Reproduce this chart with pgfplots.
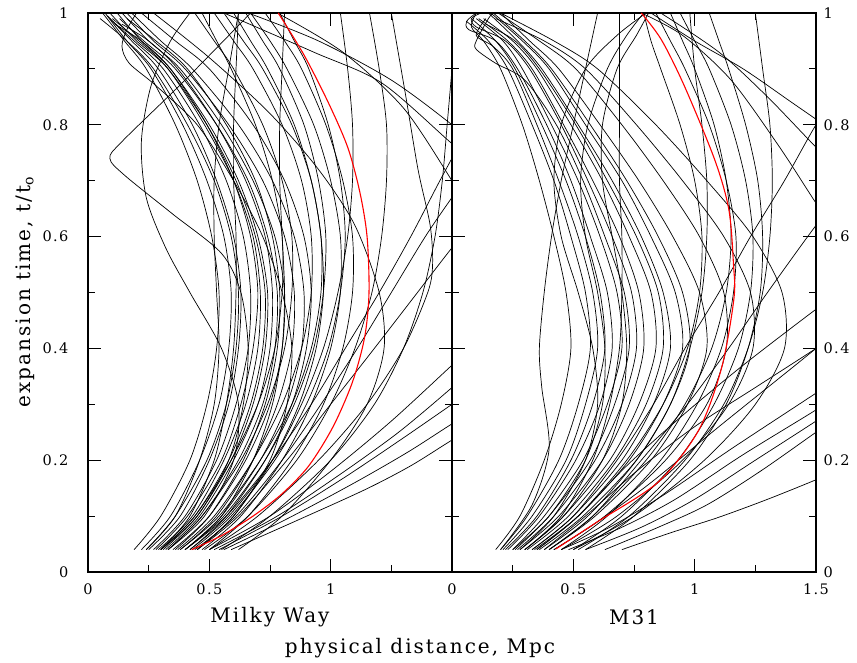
\documentclass[border=0pt]{standalone}
\usepackage{fontspec}
\setmainfont{DejaVu Serif}
\newfontfamily\lblfont[LetterSpace=10]{DejaVu Serif}
\usepackage{pgfplots}
\pgfplotsset{compat=1.18}
\pgfplotsset{
  base/.style={scale only axis, width=364pt, height=559pt, anchor=south west,
    xmin=0, xmax=1.5, ymin=0, ymax=1,
    minor xtick={0.25,0.75,1.25},
    ytick={0,0.2,0.4,0.6,0.8,1}, minor ytick={0.1,0.3,0.5,0.7,0.9},
    yticklabels={0,0.2,0.4,0.6,0.8,1},
    tick align=inside, xtick pos=both, ytick pos=both, xticklabel pos=lower,
    major tick length=13pt, minor tick length=7pt,
    every tick/.style={black, line width=0.8pt},
    axis line style={line width=1.3pt},
    tick label style={font=\lblfont\fontsize{14.5}{16}\selectfont},
    /pgf/number format/assume math mode=true,
    xticklabel style={yshift=-8pt},
  },
  trk/.style={black, line width=0.7pt, smooth, mark=none},
  rtrk/.style={red, line width=1.1pt, smooth, mark=none},
}
\begin{document}
\begin{tikzpicture}
\path[use as bounding box] (0pt,0pt) rectangle (857pt,663pt);
% ---------------- Milky Way ----------------
\begin{axis}[base, at={(88pt,91pt)}, xtick={0,0.5,1}, xticklabels={0,0.5,1},
  yticklabel pos=left, yticklabel style={xshift=-16pt}]
% infall family
\addplot[trk] coordinates {(0.19,0.04)(0.30,0.1)(0.42,0.2)(0.49,0.3)(0.53,0.4)(0.54,0.5)(0.51,0.6)(0.45,0.7)(0.36,0.8)(0.24,0.9)(0.15,0.95)(0.06,1.0)};
\addplot[trk] coordinates {(0.22,0.04)(0.34,0.1)(0.46,0.2)(0.54,0.3)(0.58,0.4)(0.59,0.5)(0.56,0.6)(0.49,0.7)(0.39,0.8)(0.26,0.9)(0.16,0.95)(0.07,1.0)};
\addplot[trk] coordinates {(0.25,0.04)(0.38,0.1)(0.50,0.2)(0.58,0.3)(0.62,0.4)(0.63,0.5)(0.60,0.6)(0.53,0.7)(0.43,0.8)(0.29,0.9)(0.18,0.95)(0.08,0.995)};
\addplot[trk] coordinates {(0.27,0.04)(0.40,0.1)(0.53,0.2)(0.61,0.3)(0.66,0.4)(0.67,0.5)(0.64,0.6)(0.57,0.7)(0.46,0.8)(0.31,0.9)(0.19,0.95)(0.09,0.99)};
\addplot[trk] coordinates {(0.29,0.04)(0.43,0.1)(0.56,0.2)(0.65,0.3)(0.70,0.4)(0.71,0.5)(0.68,0.6)(0.60,0.7)(0.48,0.8)(0.33,0.9)(0.21,0.95)(0.10,0.99)};
\addplot[trk] coordinates {(0.31,0.04)(0.45,0.1)(0.59,0.2)(0.68,0.3)(0.73,0.4)(0.74,0.5)(0.70,0.6)(0.62,0.7)(0.50,0.8)(0.34,0.9)(0.22,0.95)(0.12,1.0)};
\addplot[trk] coordinates {(0.33,0.04)(0.47,0.1)(0.62,0.2)(0.72,0.3)(0.77,0.4)(0.78,0.5)(0.74,0.6)(0.66,0.7)(0.53,0.8)(0.36,0.9)(0.23,0.95)(0.13,0.99)};
\addplot[trk] coordinates {(0.35,0.04)(0.50,0.1)(0.65,0.2)(0.75,0.3)(0.80,0.4)(0.81,0.5)(0.77,0.6)(0.68,0.7)(0.55,0.8)(0.38,0.9)(0.25,0.95)(0.14,1.0)};
\addplot[trk] coordinates {(0.38,0.04)(0.53,0.1)(0.68,0.2)(0.78,0.3)(0.84,0.4)(0.85,0.5)(0.81,0.6)(0.72,0.7)(0.58,0.8)(0.40,0.9)(0.27,0.95)(0.16,1.0)};
\addplot[trk] coordinates {(0.40,0.04)(0.55,0.1)(0.71,0.2)(0.82,0.3)(0.88,0.4)(0.89,0.5)(0.85,0.6)(0.76,0.7)(0.62,0.8)(0.43,0.9)(0.30,0.95)(0.18,1.0)};
\addplot[trk] coordinates {(0.36,0.04)(0.50,0.1)(0.64,0.2)(0.73,0.3)(0.78,0.4)(0.79,0.5)(0.76,0.6)(0.69,0.7)(0.57,0.8)(0.41,0.9)(0.28,0.95)(0.16,0.99)};
\addplot[trk] coordinates {(0.28,0.04)(0.41,0.1)(0.55,0.2)(0.63,0.3)(0.68,0.4)(0.70,0.5)(0.67,0.6)(0.60,0.7)(0.49,0.8)(0.34,0.9)(0.22,0.95)(0.11,0.98)};
\addplot[trk] coordinates {(0.24,0.04)(0.36,0.1)(0.49,0.2)(0.57,0.3)(0.61,0.4)(0.62,0.5)(0.59,0.6)(0.52,0.7)(0.41,0.8)(0.27,0.9)(0.16,0.95)(0.05,0.99)};
\addplot[trk] coordinates {(0.32,0.04)(0.46,0.1)(0.60,0.2)(0.70,0.3)(0.75,0.4)(0.76,0.5)(0.73,0.6)(0.65,0.7)(0.53,0.8)(0.37,0.9)(0.25,0.95)(0.14,0.98)};
\addplot[trk] coordinates {(0.30,0.04)(0.44,0.1)(0.58,0.2)(0.67,0.3)(0.72,0.4)(0.73,0.5)(0.69,0.6)(0.61,0.7)(0.49,0.8)(0.33,0.9)(0.20,0.95)(0.09,1.0)};
\addplot[trk] coordinates {(0.42,0.04)(0.57,0.1)(0.73,0.2)(0.84,0.3)(0.90,0.4)(0.92,0.5)(0.89,0.6)(0.81,0.7)(0.68,0.8)(0.50,0.9)(0.36,0.95)(0.22,1.0)};
% turn-around family ending high
\addplot[trk] coordinates {(0.45,0.04)(0.60,0.1)(0.76,0.2)(0.87,0.3)(0.94,0.4)(0.97,0.5)(0.96,0.6)(0.92,0.7)(0.84,0.8)(0.72,0.9)(0.64,0.95)(0.56,1.0)};
\addplot[trk] coordinates {(0.40,0.04)(0.56,0.1)(0.73,0.2)(0.85,0.3)(0.93,0.4)(0.97,0.5)(0.98,0.6)(0.95,0.7)(0.89,0.8)(0.79,0.9)(0.72,0.95)(0.65,1.0)};
\addplot[trk] coordinates {(0.47,0.04)(0.63,0.1)(0.80,0.2)(0.92,0.3)(1.00,0.4)(1.04,0.5)(1.04,0.6)(1.00,0.7)(0.93,0.8)(0.82,0.9)(0.75,0.95)(0.67,1.0)};
\addplot[trk] coordinates {(0.37,0.04)(0.52,0.1)(0.68,0.2)(0.80,0.3)(0.88,0.4)(0.92,0.5)(0.92,0.6)(0.88,0.7)(0.80,0.8)(0.68,0.9)(0.60,0.95)(0.52,1.0)};
\addplot[trk] coordinates {(0.50,0.04)(0.66,0.1)(0.84,0.2)(0.97,0.3)(1.05,0.4)(1.09,0.5)(1.09,0.6)(1.05,0.7)(0.98,0.8)(0.88,0.9)(0.81,0.95)(0.73,1.0)};
\addplot[trk] coordinates {(0.33,0.04)(0.47,0.1)(0.63,0.2)(0.74,0.3)(0.81,0.4)(0.84,0.5)(0.84,0.6)(0.80,0.7)(0.72,0.8)(0.60,0.9)(0.52,0.95)(0.44,1.0)};
\addplot[trk] coordinates {(0.43,0.04)(0.59,0.1)(0.77,0.2)(0.90,0.3)(0.99,0.4)(1.04,0.5)(1.06,0.6)(1.04,0.7)(0.99,0.8)(0.91,0.9)(0.85,0.95)(0.79,1.0)};
\addplot[trk] coordinates {(0.38,0.04)(0.54,0.1)(0.71,0.2)(0.84,0.3)(0.92,0.4)(0.96,0.5)(0.96,0.6)(0.92,0.7)(0.85,0.8)(0.74,0.9)(0.67,0.95)(0.60,1.0)};
\addplot[trk] coordinates {(0.30,0.04)(0.44,0.1)(0.59,0.2)(0.70,0.3)(0.77,0.4)(0.80,0.5)(0.80,0.6)(0.76,0.7)(0.69,0.8)(0.59,0.9)(0.53,0.95)(0.47,1.0)};
% near-vertical and bouncing tracks
\addplot[trk] coordinates {(0.30,0.04)(0.42,0.1)(0.52,0.2)(0.57,0.3)(0.60,0.4)(0.61,0.5)(0.61,0.6)(0.60,0.7)(0.60,0.8)(0.61,0.9)(0.62,1.0)};
\addplot[trk] coordinates {(0.40,0.04)(0.55,0.1)(0.68,0.2)(0.76,0.3)(0.80,0.4)(0.81,0.5)(0.80,0.6)(0.79,0.7)(0.79,0.8)(0.80,0.9)(0.81,1.0)};
\addplot[trk] coordinates {(0.24,0.04)(0.36,0.1)(0.46,0.2)(0.52,0.3)(0.54,0.4)(0.53,0.5)(0.52,0.6)(0.52,0.7)(0.54,0.8)(0.58,0.9)(0.62,1.0)};
\addplot[trk] coordinates {(0.33,0.04)(0.48,0.1)(0.60,0.2)(0.62,0.3)(0.55,0.4)(0.42,0.5)(0.32,0.58)(0.24,0.67)(0.22,0.77)(0.26,0.87)(0.34,0.95)(0.42,1.0)};
\addplot[trk] coordinates {(0.45,0.04)(0.60,0.1)(0.75,0.2)(0.82,0.3)(0.84,0.4)(0.80,0.5)(0.72,0.6)(0.60,0.7)(0.45,0.8)(0.28,0.87)(0.17,0.91)(0.14,0.94)(0.16,0.97)(0.20,1.0)};
\addplot[trk] coordinates {(0.30,0.04)(0.45,0.1)(0.58,0.2)(0.64,0.3)(0.66,0.4)(0.63,0.5)(0.55,0.57)(0.35,0.64)(0.15,0.71)(0.09,0.74)(0.14,0.77)(0.40,0.88)(0.67,1.0)};
\addplot[trk] coordinates {(0.62,0.04)(0.80,0.1)(1.00,0.2)(1.15,0.3)(1.22,0.4)(1.20,0.5)(1.10,0.62)(0.95,0.72)(0.75,0.82)(0.50,0.92)(0.27,1.0)};
% outward tracks
\addplot[trk] coordinates {(0.59,0.04)(0.85,0.09)(1.14,0.147)(1.33,0.19)(1.5,0.236)(1.6,0.26)};
\addplot[trk] coordinates {(0.56,0.04)(0.82,0.095)(1.10,0.16)(1.32,0.215)(1.5,0.265)(1.6,0.29)};
\addplot[trk] coordinates {(0.54,0.04)(0.80,0.1)(1.06,0.17)(1.30,0.24)(1.5,0.30)(1.6,0.33)};
\addplot[trk] coordinates {(0.52,0.04)(0.78,0.1)(1.04,0.175)(1.28,0.25)(1.5,0.33)(1.6,0.37)};
\addplot[trk] coordinates {(0.50,0.04)(0.75,0.1)(1.00,0.18)(1.25,0.27)(1.5,0.37)(1.6,0.41)};
\addplot[trk] coordinates {(0.45,0.04)(0.62,0.1)(0.82,0.2)(1.00,0.3)(1.18,0.4)(1.34,0.49)(1.5,0.58)(1.6,0.63)};
\addplot[trk] coordinates {(0.40,0.04)(0.57,0.1)(0.76,0.2)(0.92,0.3)(1.06,0.4)(1.20,0.5)(1.33,0.6)(1.45,0.7)(1.55,0.78)};
\addplot[trk] coordinates {(0.44,0.04)(0.61,0.1)(0.80,0.2)(0.96,0.3)(1.11,0.4)(1.25,0.5)(1.39,0.6)(1.5,0.67)(1.6,0.73)};
\addplot[trk] coordinates {(0.42,0.04)(0.58,0.1)(0.76,0.2)(0.88,0.3)(0.97,0.4)(1.03,0.5)(1.07,0.6)(1.09,0.7)(1.09,0.8)(1.07,0.9)(1.04,1.0)};
\addplot[trk] coordinates {(0.48,0.04)(0.66,0.1)(0.86,0.2)(1.00,0.3)(1.10,0.4)(1.17,0.5)(1.21,0.6)(1.23,0.7)(1.23,0.8)(1.20,0.9)(1.16,1.0)};
\addplot[trk] coordinates {(0.50,0.04)(0.70,0.1)(0.95,0.2)(1.15,0.3)(1.30,0.4)(1.40,0.5)(1.42,0.55)(1.41,0.62)(1.36,0.72)(1.31,0.85)(1.25,1.0)};
\addplot[trk] coordinates {(0.55,0.04)(0.75,0.1)(1.00,0.2)(1.18,0.3)(1.30,0.4)(1.38,0.5)(1.43,0.6)(1.46,0.7)(1.48,0.8)(1.5,0.9)(1.52,1.0)};
% incoming tracks
\addplot[trk] coordinates {(1.6,0.73)(1.49,0.77)(1.21,0.875)(0.93,0.93)(0.56,1.0)};
\addplot[trk] coordinates {(1.6,0.63)(1.5,0.70)(1.30,0.83)(1.05,0.93)(0.78,1.0)};
\addplot[trk] coordinates {(1.6,0.76)(1.5,0.80)(1.25,0.88)(0.95,0.95)(0.66,1.0)};
% highlighted track
\addplot[rtrk] coordinates {(0.427,0.04)(0.55,0.065)(0.68,0.10)(0.80,0.14)(0.91,0.19)(1.01,0.26)(1.09,0.34)(1.14,0.42)(1.158,0.5)(1.15,0.6)(1.12,0.68)(1.07,0.76)(0.99,0.84)(0.89,0.925)(0.784,1.0)};
\end{axis}
% ---------------- M31 ----------------
\begin{axis}[base, at={(452pt,91pt)}, xtick={0,0.5,1,1.5}, xticklabels={0,0.5,1,1.5},
  yticklabel pos=right, yticklabel style={xshift=4pt}]
% infall family
\addplot[trk] coordinates {(0.18,0.04)(0.28,0.1)(0.38,0.2)(0.45,0.3)(0.49,0.4)(0.47,0.5)(0.42,0.6)(0.36,0.7)(0.29,0.8)(0.20,0.9)(0.13,0.95)(0.08,0.975)(0.10,1.0)};
\addplot[trk] coordinates {(0.20,0.04)(0.31,0.1)(0.44,0.2)(0.52,0.3)(0.57,0.4)(0.55,0.5)(0.49,0.6)(0.42,0.7)(0.33,0.8)(0.23,0.9)(0.15,0.95)(0.06,0.985)};
\addplot[trk] coordinates {(0.22,0.04)(0.35,0.1)(0.49,0.2)(0.58,0.3)(0.63,0.4)(0.61,0.5)(0.55,0.6)(0.47,0.7)(0.37,0.8)(0.26,0.9)(0.18,0.95)(0.08,0.99)};
\addplot[trk] coordinates {(0.25,0.04)(0.38,0.1)(0.54,0.2)(0.64,0.3)(0.70,0.4)(0.68,0.5)(0.61,0.6)(0.52,0.7)(0.41,0.8)(0.29,0.9)(0.21,0.95)(0.10,0.99)};
\addplot[trk] coordinates {(0.27,0.04)(0.42,0.1)(0.59,0.2)(0.70,0.3)(0.76,0.4)(0.74,0.5)(0.66,0.6)(0.56,0.7)(0.45,0.8)(0.32,0.9)(0.22,0.95)(0.10,0.975)(0.08,0.99)(0.12,1.0)};
\addplot[trk] coordinates {(0.30,0.04)(0.46,0.1)(0.65,0.2)(0.77,0.3)(0.84,0.4)(0.82,0.5)(0.73,0.6)(0.62,0.7)(0.49,0.8)(0.35,0.9)(0.25,0.95)(0.13,0.99)};
\addplot[trk] coordinates {(0.33,0.04)(0.50,0.1)(0.70,0.2)(0.83,0.3)(0.90,0.4)(0.87,0.5)(0.78,0.6)(0.66,0.7)(0.52,0.8)(0.37,0.9)(0.27,0.95)(0.15,1.0)};
\addplot[trk] coordinates {(0.36,0.04)(0.54,0.1)(0.76,0.2)(0.90,0.3)(0.98,0.4)(0.95,0.5)(0.85,0.6)(0.72,0.7)(0.57,0.8)(0.41,0.9)(0.30,0.95)(0.17,1.0)};
\addplot[trk] coordinates {(0.28,0.04)(0.44,0.1)(0.62,0.2)(0.73,0.3)(0.79,0.4)(0.77,0.5)(0.69,0.6)(0.58,0.7)(0.46,0.8)(0.33,0.9)(0.23,0.95)(0.11,0.99)};
\addplot[trk] coordinates {(0.23,0.04)(0.36,0.1)(0.51,0.2)(0.61,0.3)(0.66,0.4)(0.64,0.5)(0.57,0.6)(0.49,0.7)(0.39,0.8)(0.27,0.9)(0.18,0.95)(0.07,0.97)(0.06,0.985)(0.10,1.0)};
\addplot[trk] coordinates {(0.40,0.04)(0.59,0.1)(0.82,0.2)(0.97,0.3)(1.05,0.4)(1.02,0.5)(0.91,0.6)(0.77,0.7)(0.61,0.8)(0.44,0.9)(0.32,0.95)(0.20,1.0)};
\addplot[trk] coordinates {(0.31,0.04)(0.48,0.1)(0.67,0.2)(0.80,0.3)(0.87,0.4)(0.85,0.5)(0.76,0.6)(0.64,0.7)(0.51,0.8)(0.36,0.9)(0.26,0.95)(0.14,0.98)};
\addplot[trk] coordinates {(0.21,0.04)(0.33,0.1)(0.47,0.2)(0.55,0.3)(0.60,0.4)(0.58,0.5)(0.52,0.6)(0.44,0.7)(0.35,0.8)(0.25,0.9)(0.17,0.94)(0.10,0.96)(0.14,0.99)};
\addplot[trk] coordinates {(0.34,0.04)(0.52,0.1)(0.73,0.2)(0.87,0.3)(0.95,0.4)(0.92,0.5)(0.82,0.6)(0.70,0.7)(0.55,0.8)(0.40,0.9)(0.29,0.95)(0.16,1.0)};
\addplot[trk] coordinates {(0.26,0.04)(0.40,0.1)(0.57,0.2)(0.67,0.3)(0.73,0.4)(0.71,0.5)(0.63,0.6)(0.54,0.7)(0.43,0.8)(0.30,0.88)(0.18,0.91)(0.10,0.935)(0.10,0.95)(0.15,0.99)(0.17,1.0)};
\addplot[trk] coordinates {(0.45,0.04)(0.68,0.1)(0.95,0.2)(1.14,0.3)(1.24,0.4)(1.23,0.5)(1.12,0.6)(0.95,0.7)(0.76,0.8)(0.55,0.9)(0.38,0.95)(0.18,0.99)};
\addplot[trk] coordinates {(0.50,0.04)(0.75,0.1)(1.04,0.2)(1.25,0.3)(1.37,0.4)(1.36,0.5)(1.24,0.6)(1.05,0.7)(0.84,0.8)(0.60,0.9)(0.42,0.95)(0.20,1.0)};
\addplot[trk] coordinates {(0.42,0.04)(0.63,0.1)(0.88,0.2)(1.05,0.3)(1.13,0.4)(1.12,0.5)(1.02,0.6)(0.87,0.7)(0.70,0.8)(0.51,0.9)(0.36,0.95)(0.19,1.0)};
% wavy / vertical tracks
\addplot[trk] coordinates {(0.20,0.04)(0.33,0.12)(0.40,0.22)(0.37,0.33)(0.36,0.4)(0.38,0.5)(0.41,0.6)(0.45,0.7)(0.50,0.8)(0.55,0.9)(0.60,1.0)};
\addplot[trk] coordinates {(0.30,0.04)(0.45,0.1)(0.58,0.2)(0.65,0.3)(0.69,0.4)(0.70,0.5)(0.70,0.6)(0.69,0.7)(0.69,0.8)(0.69,0.9)(0.69,1.0)};
\addplot[trk] coordinates {(0.28,0.04)(0.42,0.1)(0.55,0.2)(0.60,0.3)(0.58,0.4)(0.52,0.5)(0.45,0.6)(0.42,0.7)(0.45,0.8)(0.55,0.9)(0.68,0.96)(0.80,1.0)};
% turn-around family ending high
\addplot[trk] coordinates {(0.35,0.04)(0.52,0.1)(0.72,0.2)(0.87,0.3)(0.97,0.4)(1.02,0.5)(1.03,0.6)(1.00,0.7)(0.94,0.8)(0.86,0.9)(0.82,0.95)(0.79,1.0)};
\addplot[trk] coordinates {(0.45,0.04)(0.64,0.1)(0.86,0.2)(1.01,0.3)(1.11,0.4)(1.16,0.5)(1.17,0.6)(1.13,0.7)(1.06,0.8)(0.96,0.9)(0.90,0.95)(0.84,1.0)};
\addplot[trk] coordinates {(0.40,0.04)(0.58,0.1)(0.80,0.2)(0.96,0.3)(1.07,0.4)(1.13,0.5)(1.15,0.6)(1.13,0.7)(1.08,0.8)(1.00,0.9)(0.95,0.95)(0.90,1.0)};
\addplot[trk] coordinates {(0.50,0.04)(0.70,0.1)(0.93,0.2)(1.08,0.3)(1.18,0.4)(1.23,0.5)(1.24,0.6)(1.21,0.7)(1.15,0.8)(1.06,0.9)(1.00,0.95)(0.94,1.0)};
\addplot[trk] coordinates {(0.38,0.04)(0.56,0.1)(0.76,0.2)(0.90,0.3)(0.98,0.4)(1.03,0.5)(1.05,0.6)(1.05,0.7)(1.03,0.8)(1.00,0.9)(0.98,1.0)};
\addplot[trk] coordinates {(0.30,0.04)(0.46,0.1)(0.62,0.2)(0.70,0.3)(0.72,0.4)(0.70,0.5)(0.66,0.6)(0.62,0.7)(0.62,0.8)(0.68,0.9)(0.76,0.96)(0.81,1.0)};
\addplot[trk] coordinates {(0.25,0.04)(0.40,0.1)(0.55,0.2)(0.62,0.3)(0.63,0.4)(0.60,0.5)(0.55,0.6)(0.53,0.7)(0.56,0.8)(0.64,0.9)(0.72,0.96)(0.79,1.0)};
\addplot[trk] coordinates {(0.55,0.04)(0.75,0.1)(0.98,0.2)(1.13,0.3)(1.22,0.4)(1.27,0.5)(1.28,0.6)(1.26,0.7)(1.21,0.8)(1.14,0.9)(1.10,0.95)(1.06,1.0)};
\addplot[trk] coordinates {(0.52,0.04)(0.73,0.1)(0.96,0.2)(1.12,0.3)(1.22,0.4)(1.28,0.5)(1.31,0.6)(1.32,0.7)(1.31,0.8)(1.28,0.9)(1.25,1.0)};
% outward tracks
\addplot[trk] coordinates {(0.70,0.04)(0.90,0.07)(1.10,0.098)(1.30,0.13)(1.5,0.165)(1.6,0.185)};
\addplot[trk] coordinates {(0.63,0.04)(0.85,0.08)(1.05,0.12)(1.27,0.18)(1.5,0.25)(1.6,0.28)};
\addplot[trk] coordinates {(0.55,0.04)(0.78,0.08)(1.00,0.13)(1.25,0.20)(1.5,0.27)(1.6,0.30)};
\addplot[trk] coordinates {(0.48,0.04)(0.70,0.08)(0.92,0.13)(1.20,0.21)(1.5,0.29)(1.6,0.32)};
\addplot[trk] coordinates {(0.45,0.04)(0.65,0.08)(0.88,0.14)(1.15,0.22)(1.5,0.32)(1.6,0.35)};
\addplot[trk] coordinates {(0.42,0.04)(0.60,0.09)(0.82,0.16)(1.10,0.26)(1.5,0.40)(1.6,0.44)};
\addplot[trk] coordinates {(0.38,0.04)(0.55,0.1)(0.76,0.18)(1.00,0.26)(1.25,0.33)(1.5,0.40)(1.6,0.43)};
\addplot[trk] coordinates {(0.35,0.04)(0.52,0.1)(0.72,0.19)(0.95,0.28)(1.20,0.37)(1.5,0.47)(1.6,0.50)};
\addplot[trk] coordinates {(0.40,0.04)(0.58,0.1)(0.78,0.2)(0.97,0.3)(1.14,0.4)(1.30,0.5)(1.5,0.62)(1.6,0.67)};
\addplot[trk] coordinates {(0.33,0.04)(0.50,0.1)(0.68,0.2)(0.83,0.3)(0.96,0.4)(1.10,0.5)(1.23,0.6)(1.37,0.7)(1.5,0.8)(1.6,0.86)};
% incoming tracks
\addplot[trk] coordinates {(1.6,0.78)(1.5,0.81)(1.40,0.84)(1.20,0.90)(1.00,0.95)(0.82,1.0)};
\addplot[trk] coordinates {(1.6,0.60)(1.5,0.66)(1.35,0.76)(1.15,0.88)(0.95,0.96)(0.78,1.0)};
\addplot[trk] coordinates {(1.6,0.72)(1.5,0.76)(1.30,0.85)(1.10,0.93)(0.86,1.0)};
% highlighted track
\addplot[rtrk] coordinates {(0.427,0.041)(0.60,0.09)(0.85,0.161)(1.017,0.254)(1.112,0.367)(1.162,0.49)(1.16,0.55)(1.141,0.648)(1.083,0.737)(0.959,0.868)(0.863,0.952)(0.78,1.0)};
\end{axis}
\node[font=\lblfont\fontsize{20}{24}\selectfont, rotate=90] at (25pt,371pt) {expansion time, t/t\textsubscript{o}};
\node[font=\lblfont\fontsize{20}{24}\selectfont] at (270pt,46pt) {Milky Way};
\node[font=\lblfont\fontsize{20}{24}\selectfont] at (634pt,46pt) {M31};
\node[font=\lblfont\fontsize{20}{24}\selectfont] at (420pt,15pt) {physical distance, Mpc};
\end{tikzpicture}
\end{document}
